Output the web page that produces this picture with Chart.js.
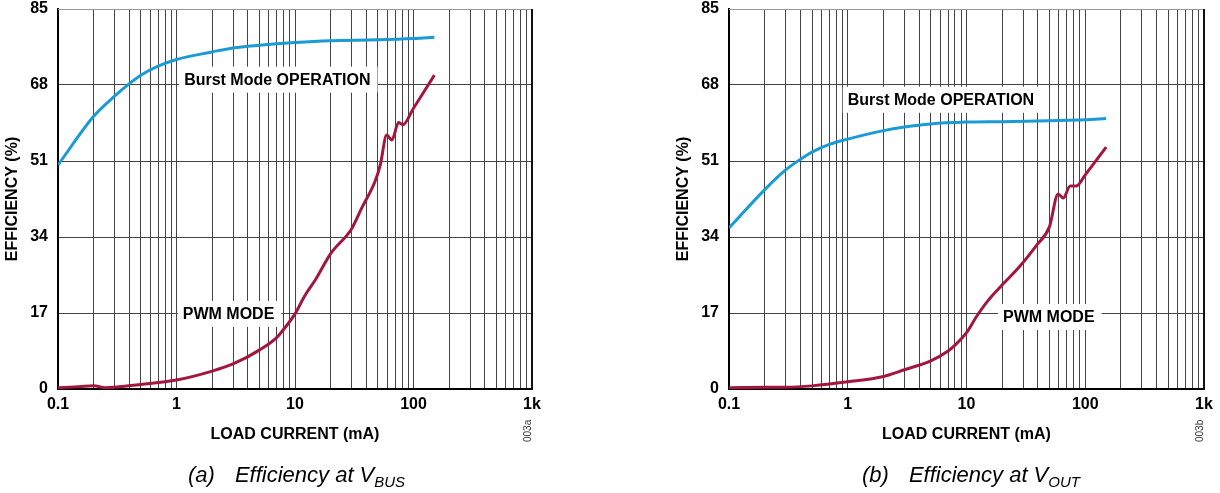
<!DOCTYPE html>
<html>
<head>
<meta charset="utf-8">
<script src="https://cdn.jsdelivr.net/npm/chart.js@4.4.1/dist/chart.umd.min.js"></script>
<style>
body { margin: 0; background: #fff; width: 1220px; height: 493px; overflow: hidden; position: relative; font-family: 'Liberation Sans', Arial, sans-serif; }
.panel { position: absolute; top: 0; width: 610px; height: 493px; }
.cap { position: absolute; top: 462px; font-style: italic; font-size: 22px; line-height: 26px; white-space: nowrap; color: #000; }
.cap .tag { margin-right: 20px; }
.cap sub { font-size: 15px; vertical-align: -5px; line-height: 0; }
.code { position: absolute; font-size: 10px; color: #333; transform: rotate(-90deg); transform-origin: left top; white-space: nowrap; }
</style>
</head>
<body>
<div class="panel" style="left:0"><canvas id="chartA" width="610" height="493"></canvas></div>
<div class="panel" style="left:610px"><canvas id="chartB" width="610" height="493"></canvas></div>
<div class="cap" style="left:188px"><span class="tag">(a)</span>Efficiency at V<sub>BUS</sub></div>
<div class="cap" style="left:862px"><span class="tag">(b)</span>Efficiency at V<sub>OUT</sub></div>
<div class="code" style="left:522px; top:442px">003a</div>
<div class="code" style="left:1194px; top:442px">003b</div>
<script>
// load current (mA) and efficiency (%)
const currentBurstA = [0.1, 0.2, 0.3, 0.4, 0.5, 0.7, 1, 2, 3, 5, 10, 20, 50, 100, 150];
const effBurstA = [50.1, 61, 65.5, 68.3, 70.2, 72.2, 73.7, 75.4, 76.3, 76.9, 77.5, 77.9, 78.1, 78.4, 78.7];

const currentPwmA = [0.1, 0.15, 0.2, 0.25, 0.3, 0.5, 1, 2, 3, 5, 7, 8, 10, 12, 15, 20, 30, 36.6, 47.3, 52.4, 59.4, 65.7, 74.8, 81.3, 100, 150];
const effPwmA = [0.3, 0.5, 0.7, 0.3, 0.4, 1.0, 2.0, 4.0, 5.6, 8.7, 11.5, 13.3, 16.8, 20.7, 24.6, 30.3, 35.8, 40.5, 46.4, 50.1, 56.8, 55.7, 59.6, 59.1, 62.8, 70.2];

const currentBurstB = [0.1, 0.2, 0.3, 0.4, 0.5, 0.7, 1, 2, 3, 5, 10, 20, 50, 100, 150];
const effBurstB = [36, 44.6, 49.0, 51.4, 53.0, 54.7, 55.9, 57.8, 58.6, 59.3, 59.7, 59.8, 60.0, 60.2, 60.5];

const currentPwmB = [0.1, 0.2, 0.3, 0.5, 1, 2, 3, 5, 7, 8, 10, 12, 15, 20, 28, 39, 49.8, 59.1, 65.4, 74.6, 84.2, 100, 150];
const effPwmB = [0.3, 0.4, 0.4, 0.7, 1.6, 2.8, 4.3, 6.3, 8.5, 9.8, 12.6, 16.0, 19.6, 23.3, 27.4, 32.2, 36.2, 43.6, 42.7, 45.4, 45.4, 47.9, 54.1];

const majorTicks = [0.1, 1, 10, 100, 1000];
const majorLabels = ['0.1', '1', '10', '100', '1k'];
const yTicks = [0, 17, 34, 51, 68, 85];

// gridlines at 1..9 of every decade
const gridTicks = [];
for (let e = -1; e <= 2; e++) {
    for (let m = 1; m <= 9; m++) gridTicks.push(Number((m * Math.pow(10, e)).toPrecision(3)));
}
gridTicks.push(1000);

const BLUE = '#1a9bd5';
const RED = '#a3173f';
const FONT = 'Liberation Sans';
const FSIZE = 16;

function pts(xs, ys) {
    return xs.map((x, i) => ({ x: x, y: ys[i] }));
}

// white boxed text labels, drawn over the grid but under the curves
const modeLabels = {
    id: 'modeLabels',
    beforeDatasetsDraw(chart, args, opts) {
        const ctx = chart.ctx;
        ctx.save();
        ctx.font = 'bold ' + FSIZE + 'px ' + FONT;
        ctx.textBaseline = 'middle';
        opts.items.forEach(function(it) {
            const px = chart.scales.x.getPixelForValue(it.x);
            const py = chart.scales.y.getPixelForValue(it.y);
            const w = ctx.measureText(it.text).width;
            ctx.fillStyle = '#fff';
            ctx.fillRect(px - 5, py - 13, w + 12, 26);
            ctx.fillStyle = '#000';
            ctx.fillText(it.text, px, py + 1);
        });
        ctx.restore();
    }
};

// top and right edges of the plot frame
const frame = {
    id: 'frame',
    afterDraw(chart) {
        const ctx = chart.ctx;
        const a = chart.chartArea;
        ctx.save();
        ctx.strokeStyle = '#999';
        ctx.lineWidth = 1;
        ctx.beginPath();
        ctx.moveTo(a.left, Math.round(a.top) + 0.5);
        ctx.lineTo(a.right, Math.round(a.top) + 0.5);
        ctx.stroke();
        ctx.strokeStyle = '#111';
        ctx.lineWidth = 2;
        ctx.beginPath();
        ctx.moveTo(a.right, a.top);
        ctx.lineTo(a.right, a.bottom + 1);
        ctx.stroke();
        ctx.restore();
    }
};

function makeChart(id, padLeft, padRight, burst, pwm, labels) {
    const ctx = document.getElementById(id).getContext('2d');
    const tickFont = { family: FONT, weight: 'bold', size: FSIZE };
    return new Chart(ctx, {
        type: 'line',
        data: {
            datasets: [
                { data: burst, borderColor: BLUE, borderWidth: 3, pointRadius: 0, cubicInterpolationMode: 'monotone', fill: false },
                { data: pwm, borderColor: RED, borderWidth: 3, pointRadius: 0, cubicInterpolationMode: 'monotone', fill: false }
            ]
        },
        options: {
            responsive: false,
            animation: false,
            devicePixelRatio: 1,
            layout: { padding: { left: padLeft, right: padRight, top: 9, bottom: 0 } },
            plugins: {
                legend: { display: false },
                tooltip: { enabled: false },
                modeLabels: { items: labels }
            },
            scales: {
                x: {
                    type: 'logarithmic',
                    min: 0.1,
                    max: 1000,
                    afterBuildTicks: function(axis) {
                        axis.ticks = gridTicks.map(v => ({ value: v }));
                    },
                    afterFit: function(axis) {
                        axis.height = 104;
                        axis.paddingLeft = 0;
                        axis.paddingRight = 0;
                    },
                    grid: { color: '#444', lineWidth: 1, drawTicks: false },
                    border: { color: '#000', width: 2 },
                    ticks: {
                        autoSkip: false,
                        maxRotation: 0,
                        padding: 6,
                        color: '#000',
                        font: tickFont,
                        callback: function(value) {
                            const i = majorTicks.findIndex(m => Math.abs(m - value) < 1e-9);
                            return i >= 0 ? majorLabels[i] : '';
                        }
                    },
                    title: {
                        display: true,
                        text: 'LOAD CURRENT (mA)',
                        color: '#000',
                        font: tickFont,
                        padding: { top: 0, bottom: 49 }
                    }
                },
                y: {
                    min: 0,
                    max: 85,
                    afterBuildTicks: function(axis) {
                        axis.ticks = yTicks.map(v => ({ value: v }));
                    },
                    afterFit: function(axis) {
                        axis.width = 58;
                        axis.paddingTop = 0;
                        axis.paddingBottom = 0;
                    },
                    grid: { color: '#444', lineWidth: 1, drawTicks: false },
                    border: { color: '#000', width: 2 },
                    ticks: {
                        padding: 10,
                        color: '#000',
                        font: tickFont
                    },
                    title: {
                        display: true,
                        text: 'EFFICIENCY (%)',
                        color: '#000',
                        font: tickFont,
                        padding: { top: 3, bottom: 0 }
                    }
                }
            }
        },
        plugins: [modeLabels, frame]
    });
}

makeChart('chartA', 0, 78, pts(currentBurstA, effBurstA), pts(currentPwmA, effPwmA), [
    { text: 'Burst Mode OPERATION', x: 1.16, y: 69.2 },
    { text: 'PWM MODE', x: 1.13, y: 16.8 }
]);

makeChart('chartB', 61, 16, pts(currentBurstB, effBurstB), pts(currentPwmB, effPwmB), [
    { text: 'Burst Mode OPERATION', x: 1.0, y: 64.7 },
    { text: 'PWM MODE', x: 20.3, y: 16.1 }
]);
</script>
</body>
</html>
